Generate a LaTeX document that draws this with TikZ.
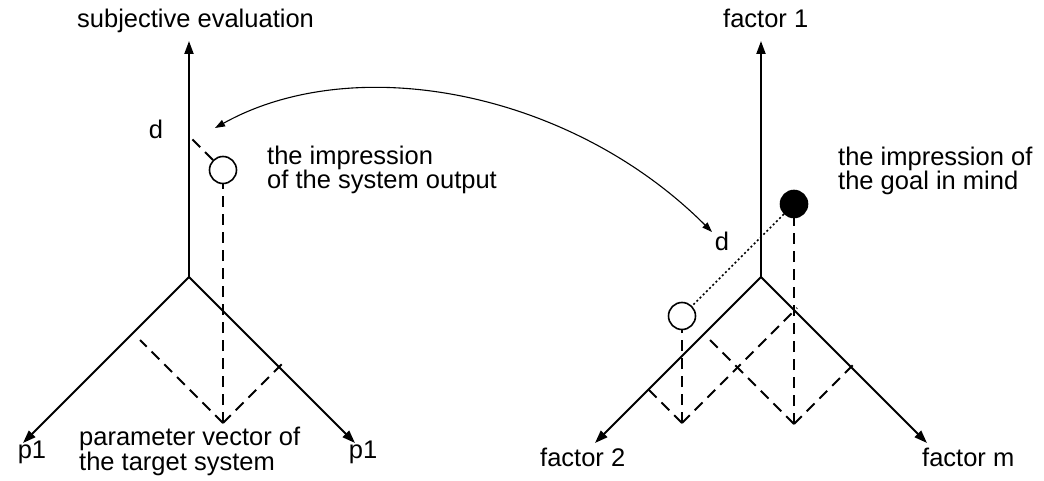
\documentclass[tikz,border=0pt]{standalone}
\usepackage{fontspec}
\setmainfont{Liberation Sans}
\usetikzlibrary{arrows.meta}
\begin{document}
\begin{tikzpicture}[x=1pt,y=-1pt,
  axis/.style={line width=2pt,-{Triangle[length=13pt,width=9pt]}},
  proj/.style={line width=1.8pt,dash pattern=on 11pt off 7pt},
  dist/.style={line width=1.6pt,dash pattern=on 2pt off 2.5pt},
  lbl/.style={font=\fontsize{25.5}{23.5}\selectfont,inner sep=0pt},
  hollow/.style={circle,draw,line width=1.6pt,minimum size=27pt,inner sep=0pt},
  filled/.style={circle,draw,fill=black,line width=1.6pt,minimum size=27pt,inner sep=0pt},
  link/.style={line width=1.1pt,{Triangle[length=10pt,width=7pt]}-{Triangle[length=10pt,width=7pt]}}]
\useasboundingbox (0,0) rectangle (1044,481);

% ---------- left diagram ----------
\coordinate (O1) at (189,277);
\coordinate (T1) at (189,41);
\coordinate (A1) at (23,443);
\coordinate (B1) at (355,443);
\draw[axis] (O1) -- (T1);
\draw[axis] (O1) -- (A1);
\draw[axis] (O1) -- (B1);
\node[hollow] (c1) at (223,170) {};
\coordinate (F1) at (223,423);
\coordinate (P1a) at (140,340);
\coordinate (P1b) at (282,364);
\coordinate (D1) at (189,136);
\draw[proj] (F1) -- (P1a);
\draw[proj] (F1) -- (P1b);
\draw[proj] (F1) -- (c1.south);
\draw[proj] (c1) -- (D1);

\node[lbl,anchor=base west] (se) at (77,28) {subjective evaluation};
\node[lbl,anchor=base] (d1) at (156,139) {d};
\node[lbl,anchor=base west,align=left] (io) at (267,189) {the impression\\of the system output};
\node[lbl,anchor=base] (p1a) at (32,458) {p1};
\node[lbl,anchor=base] (p1b) at (363,458) {p1};
\node[lbl,anchor=base west,align=left] (pv) at (79,470) {parameter vector of\\the target system};

% ---------- right diagram ----------
\coordinate (O2) at (761,277);
\coordinate (T2) at (761,41);
\coordinate (A2) at (595,443);
\coordinate (B2) at (927,443);
\draw[axis] (O2) -- (T2);
\draw[axis] (O2) -- (A2);
\draw[axis] (O2) -- (B2);
\node[hollow] (c2) at (682,316) {};
\node[filled] (c3) at (794,204) {};
\coordinate (F2) at (682,423);
\coordinate (F3) at (794,424);
\coordinate (P2a) at (646,387);
\coordinate (P2b) at (797,308);
\coordinate (P3a) at (710,340);
\coordinate (P3b) at (854,364);
\draw[proj] (F2) -- (P2a);
\draw[proj] (F2) -- (P2b);
\draw[proj] (F3) -- (P3a);
\draw[proj] (F3) -- (P3b);
\draw[proj] (F2) -- (c2.south);
\draw[proj] (F3) -- (c3.south);
\draw[dist] (c3) -- (c2);

\node[lbl,anchor=base west] (f1) at (723,28) {factor 1};
\node[lbl,anchor=base] (d2) at (722,251) {d};
\node[lbl,anchor=base west,align=left] (ig) at (838,190) {the impression of\\the goal in mind};
\node[lbl,anchor=base west] (f2) at (540,466) {factor 2};
\node[lbl,anchor=base west] (fm) at (922,466) {factor m};

% ---------- link ----------
\coordinate (e1) at (215,128);
\coordinate (e2) at (712,232);
\draw[link] (e1) .. controls (355,50) and (571,91) .. (e2);
\end{tikzpicture}
\end{document}
